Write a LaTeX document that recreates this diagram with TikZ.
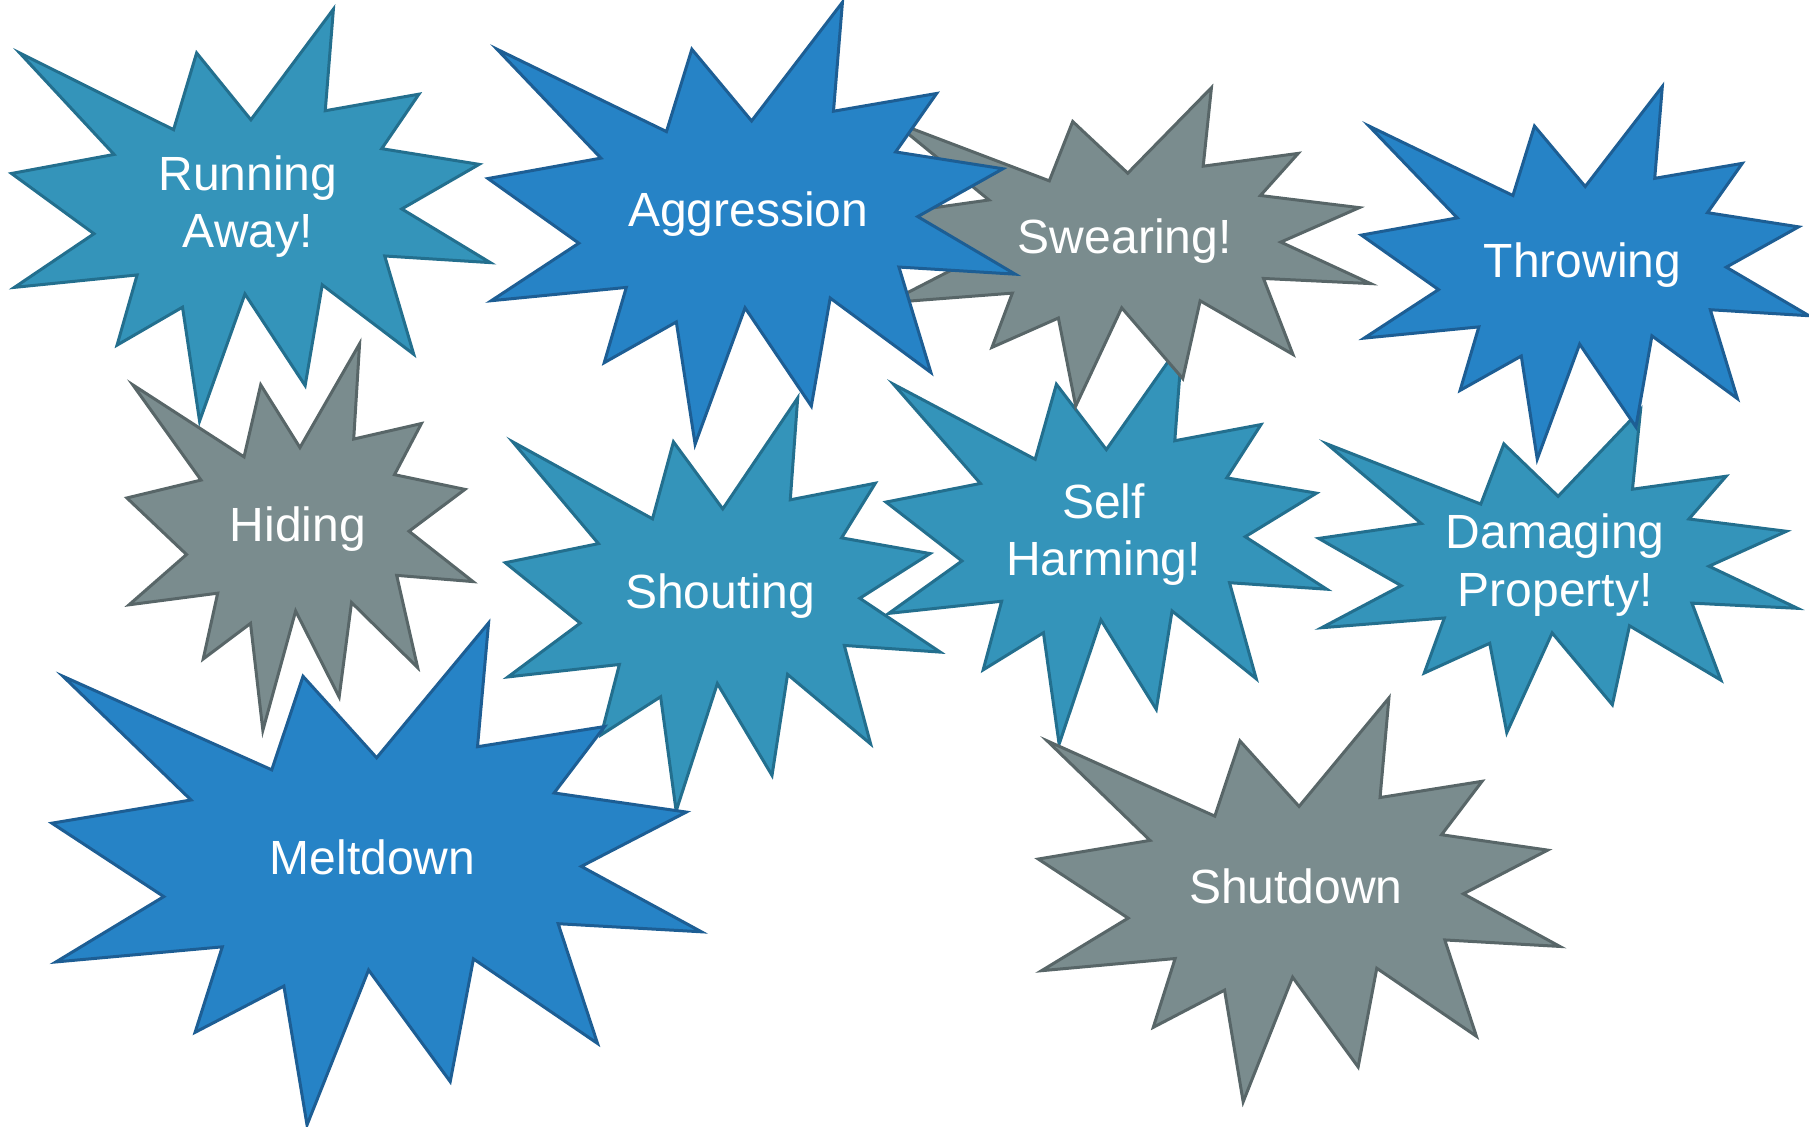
\documentclass[tikz,border=0pt]{standalone}
\usepackage{fontspec}
\setmainfont{Liberation Sans}
\definecolor{tealfill}{HTML}{3494BA}
\definecolor{tealline}{HTML}{236F8E}
\definecolor{bluefill}{HTML}{2683C6}
\definecolor{blueline}{HTML}{1D5E94}
\definecolor{grayfill}{HTML}{7A8C8E}
\definecolor{grayline}{HTML}{586668}
\newcommand{\burststrut}{\rule[-0.212em]{0pt}{1.117em}}
\tikzset{
  tealburst/.style={fill=tealfill, draw=tealline},
  blueburst/.style={fill=bluefill, draw=blueline},
  grayburst/.style={fill=grayfill, draw=grayline},
  burstlabel/.style={text=white, align=center, font=\fontsize{24}{28.8}\selectfont, inner sep=0pt}
}
% outline of one explosion, in a unit box
\newcommand{\burstoutline}{(0.5,0.26852) -- (0.67231,0) -- (0.65532,0.24653) -- (0.85093,0.20634)
  -- (0.77324,0.33866) -- (0.97671,0.37671) -- (0.81514,0.48495) -- (1,0.61528)
  -- (0.77949,0.59917) -- (0.84005,0.83773) -- (0.64907,0.66931) -- (0.61329,0.91375)
  -- (0.48759,0.69144) -- (0.39282,1) -- (0.35718,0.72347) -- (0.22046,0.81560)
  -- (0.26236,0.64523) -- (0.00625,0.67532) -- (0.17231,0.54514) -- (0,0.39884)
  -- (0.21421,0.35264) -- (0.01713,0.10625) -- (0.33852,0.29259) -- (0.38667,0.10625) -- cycle}
\begin{document}
\begin{tikzpicture}[x=0.5pt, y=-0.5pt, line width=1.5pt]
    \useasboundingbox (0,0) rectangle (1809,1127);
    % drawn back to front
    \foreach \x/\y/\w/\h/\s/\n/\t in {
        11.5/9.2/478.8/411.9/tealburst/running/{\burststrut Running\\\burststrut Away!},
        126.9/343.8/346.1/386.5/grayburst/hiding/{\burststrut Hiding},
        505.3/398.0/434.9/413.0/tealburst/shouting/{\burststrut Shouting},
        51.9/623.0/649.5/501.9/blueburst/meltdown/{\burststrut Meltdown},
        886.0/341.5/440.7/402.6/tealburst/selfharm/{\burststrut Self\\\burststrut Harming!},
        1038.3/698.0/521.5/403.8/grayburst/shutdown/{\burststrut Shutdown},
        884.9/87.7/485.7/318.4/grayburst/swearing/{\burststrut Swearing!},
        488.0/2.3/527.2/441.9/blueburst/aggression/{\burststrut Aggression},
        1318.7/409.6/478.8/323.0/tealburst/damaging/{\burststrut Damaging\\\burststrut Property!},
        1361.4/86.5/447.6/372.6/blueburst/throwing/{\burststrut Throwing}} {
      \begin{scope}[shift={(\x,\y)}, xscale=\w, yscale=\h]
        \draw[\s] \burstoutline;
      \end{scope}
      \node[burstlabel] (\n) at ({\x+0.4937*\w}, {\y+0.4689*\h}) {\t};
    }
  \end{tikzpicture}
\end{document}
